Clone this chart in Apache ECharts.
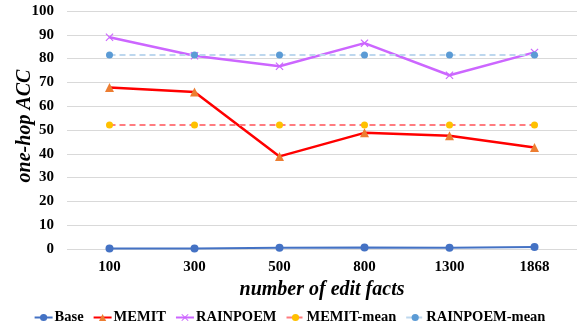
<!DOCTYPE html>
<html><head><meta charset="utf-8">
<script src="https://cdn.jsdelivr.net/npm/echarts@6/dist/echarts.min.js"></script>
<style>html,body{margin:0;padding:0;background:#fff}#c{width:579px;height:327px}</style>
</head><body><div id="c"></div>
<script>
const categories = ['100','300','500','800','1300','1868'];
const base = [0.2, 0.2, 0.5, 0.6, 0.5, 0.8];
const memit = [67.9, 66.0, 38.9, 48.8, 47.6, 42.6];
const rainpoem = [89.0, 81.2, 76.8, 86.5, 73.0, 82.6];
const memitMean = [52.1, 52.1, 52.1, 52.1, 52.1, 52.1];
const rainpoemMean = [81.5, 81.5, 81.5, 81.5, 81.5, 81.5];
const yTicks = [0,10,20,30,40,50,60,70,80,90,100];
const yTitle = 'one-hop ACC';

const font = '"Liberation Serif","Times New Roman",serif';
const xPath = 'path://M0,1 L1,0 L5,4 L9,0 L10,1 L6,5 L10,9 L9,10 L5,6 L1,10 L0,9 L4,5 Z';
const chart = echarts.init(document.getElementById('c'));
chart.setOption({
  animation:false,
  grid:{left:67,right:2,top:11,bottom:78,outerBoundsMode:'none',containLabel:false},
  graphic:[{
    type:'text', x:25, y:126, rotation:Math.PI/2,
    style:{text:yTitle, fontFamily:font, fontWeight:'bold', fontStyle:'italic', fontSize:20,
      fill:'#000', align:'center', verticalAlign:'middle'}
  }],
  legend:{
    top:305, left:'center', itemWidth:18, itemHeight:9, itemGap:9,
    textStyle:{fontFamily:font,fontWeight:'bold',fontSize:14.5,color:'#000',padding:[0,0,0,-3]},
    data:['Base','MEMIT','RAINPOEM','MEMIT-mean','RAINPOEM-mean']
  },
  xAxis:{
    type:'category', data:categories, boundaryGap:true,
    name:'number of edit facts', nameLocation:'middle', nameGap:31,
    nameTextStyle:{fontFamily:font,fontWeight:'bold',fontStyle:'italic',fontSize:20,color:'#000'},
    axisLine:{show:false}, axisTick:{show:false},
    axisLabel:{fontFamily:font,fontWeight:'bold',fontSize:15,color:'#000',margin:11}
  },
  yAxis:{
    type:'value', min:0, max:100, interval:10,
    axisLine:{show:false}, axisTick:{show:false},
    splitLine:{lineStyle:{color:'#d9d9d9',width:1}},
    axisLabel:{fontFamily:font,fontWeight:'bold',fontSize:15,color:'#000',margin:13,
      formatter:v=>yTicks.includes(v)?String(v):''}
  },
  series:[
    {name:'Base',type:'line',data:base,symbol:'circle',symbolSize:8,
      lineStyle:{color:'#4472C4',width:2},itemStyle:{color:'#4472C4'}},
    {name:'MEMIT',type:'line',data:memit,symbol:'triangle',symbolSize:9,
      lineStyle:{color:'#FF0000',width:2.5},itemStyle:{color:'#ED7D31'}},
    {name:'RAINPOEM',type:'line',data:rainpoem,symbol:xPath,symbolSize:8,
      lineStyle:{color:'#CC66FF',width:2.5},itemStyle:{color:'#CC66FF'}},
    {name:'MEMIT-mean',type:'line',data:memitMean,symbol:'circle',symbolSize:7,
      lineStyle:{color:'#FF7C80',width:2,type:[6,4]},itemStyle:{color:'#FFC000'}},
    {name:'RAINPOEM-mean',type:'line',data:rainpoemMean,symbol:'circle',symbolSize:7,
      lineStyle:{color:'#BDD7EE',width:2,type:[6,4]},itemStyle:{color:'#5B9BD5'}}
  ]
});
</script></body></html>
